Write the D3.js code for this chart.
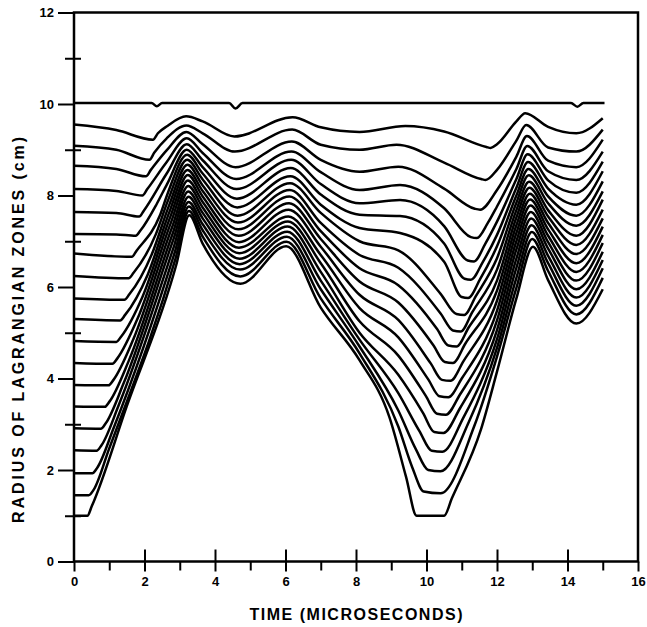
<!DOCTYPE html>
<html>
<head>
<meta charset="utf-8">
<script src="https://cdn.jsdelivr.net/npm/d3@7"></script>
<style>
  body { margin: 0; background: #fff; }
  text { font-family: "Liberation Sans", Arial, sans-serif; fill: #000; }
</style>
</head>
<body>
<svg id="chart" width="647" height="627"></svg>
<script>
// Lagrangian zone radii (cm) vs time (microseconds).
// Zones are listed from the innermost (boundary at 1 cm) outward.
const startR   = [1.00,1.45,1.93,2.43,2.91,3.39,3.86,4.34,4.82,5.30,5.75,6.24,6.73,7.16,7.64,8.14,8.65,9.09,9.55];
const driftR   = [null,null,null,null,null,null,null,null,null,null,null,null,null,7.15,7.62,8.10,8.58,9.00,9.43]; // t = 1.2
const kneeT    = [0.38,0.42,0.52,0.64,0.76,0.87,0.98,1.09,1.20,1.31,1.43,1.55,1.64,1.75,1.85,1.94,2.04,2.14,2.24];
const kneeR    = [1.00,1.45,1.93,2.42,2.90,3.38,3.85,4.32,4.80,5.27,5.72,6.19,6.66,7.12,7.54,8.00,8.42,8.78,9.22];
const bendT    = [0.50,0.56,0.66,0.78,0.90,1.01,1.12,1.23,1.34,1.45,1.57,1.69,1.78,1.89,1.99,2.08,2.18,2.28,2.38];
const bendR    = [1.20,1.57,2.05,2.54,3.02,3.50,3.97,4.44,4.92,5.39,5.84,6.31,6.80,7.24,7.68,8.14,8.56,8.94,9.36];
const joinT    = [1.50,0.99,1.13,1.27,1.41,1.55,1.68,1.81,1.95,2.09,2.21,2.32,2.43,2.35,null,null,null,null,null];
const joinR    = [3.40,2.45,2.93,3.42,3.90,4.38,4.85,5.32,5.80,6.27,6.72,7.15,7.55,7.82,null,null,null,null,null];
const riseT    = [2.90,2.88,2.86,2.84,2.82,2.80,2.78,2.76,2.74,2.72,2.70,2.68,2.66,2.64,2.63,2.62,2.62,2.63,2.65];
const riseR    = [6.48,6.62,6.76,6.90,7.04,7.17,7.30,7.43,7.55,7.67,7.79,7.92,8.05,8.25,8.48,8.72,8.98,9.25,9.52];
const peak1T   = [3.27,3.26,3.26,3.25,3.25,3.24,3.24,3.23,3.23,3.22,3.22,3.21,3.21,3.20,3.20,3.20,3.19,3.19,3.18];
const peak1R   = [7.57,7.66,7.76,7.86,7.97,8.09,8.21,8.33,8.45,8.56,8.67,8.78,8.89,9.00,9.12,9.25,9.39,9.53,9.73];
const post1R   = [6.95,7.10,7.24,7.37,7.50,7.62,7.74,7.86,7.98,8.10,8.22,8.35,8.48,8.62,8.77,8.93,9.12,9.36,9.62]; // t = 3.65
const trough1T = [4.72,4.72,4.71,4.70,4.70,4.69,4.68,4.68,4.67,4.66,4.65,4.64,4.63,4.62,4.61,4.60,4.58,4.56,4.55];
const trough1R = [6.07,6.23,6.38,6.50,6.62,6.74,6.86,6.98,7.12,7.26,7.41,7.56,7.74,7.93,8.14,8.36,8.62,8.96,9.29];
const peak2T   = [6.02,6.03,6.04,6.05,6.06,6.07,6.08,6.09,6.10,6.11,6.12,6.13,6.14,6.15,6.16,6.17,6.18,6.19,6.20];
const peak2R   = [6.89,6.99,7.10,7.21,7.32,7.43,7.54,7.69,7.83,7.98,8.12,8.27,8.42,8.60,8.78,8.96,9.18,9.44,9.71];
const r7       = [5.55,5.75,5.95,6.14,6.33,6.52,6.70,6.88,7.05,7.22,7.40,7.62,7.80,8.02,8.25,8.51,8.78,9.11,9.49]; // t = 7.0
const r8       = [4.40,4.55,4.70,4.85,5.00,5.25,5.54,5.83,6.12,6.41,6.70,7.00,7.29,7.58,7.83,8.12,8.52,9.00,9.39]; // t = 8.1
const midT     = [8.95,9.20,9.20,9.20,9.20,9.20,9.20,9.20,9.20,9.20,9.20,9.20,9.25,9.25,9.25,9.25,9.20,9.15,9.40];
const midR     = [3.15,2.95,3.30,3.68,4.08,4.50,4.90,5.28,5.66,6.04,6.42,6.80,7.18,7.55,7.90,8.23,8.63,9.11,9.52];
const descT    = [9.42,9.60,9.70,9.80,9.90,9.98,10.05,10.12,10.20,10.30,10.40,10.40,10.50,10.50,10.50,10.50,10.50,10.50,10.50];
const descR    = [1.85,2.05,2.45,2.85,3.25,3.62,3.98,4.33,4.72,5.08,5.42,5.85,6.55,6.95,7.33,7.72,8.15,8.72,9.40];
const botAT    = [9.72,9.92,10.05,10.15,10.22,10.30,10.37,10.44,10.52,10.62,10.75,10.85,11.00,11.08,11.17,11.26,11.37,11.55,11.70];
const botAR    = [1.00,1.53,2.00,2.42,2.83,3.23,3.61,3.97,4.36,4.72,5.05,5.41,5.78,6.18,6.58,7.09,7.71,8.36,9.06];
const botBT    = [10.50,10.40,10.40,10.45,10.48,10.55,10.62,10.68,10.75,10.85,10.97,11.07,11.18,11.26,11.35,11.43,11.52,11.68,11.82];
const botBR    = [1.00,1.49,1.97,2.40,2.81,3.21,3.59,3.95,4.34,4.70,5.03,5.39,5.76,6.16,6.56,7.07,7.69,8.34,9.04];
const floorExit = [10.72, 1.38]; // boundary zone leaving its 1 cm floor
const climbT   = [11.55,11.35,11.20,11.05,10.95,10.95,11.00,11.05,11.10,11.20,11.30,11.40,11.52,11.60,11.67,11.74,null,null,null];
const climbR   = [2.90,2.95,3.05,3.15,3.35,3.65,4.00,4.38,4.76,5.12,5.45,5.80,6.17,6.55,6.95,7.40,null,null,null];
const r12      = [4.15,4.48,4.67,4.86,5.06,5.27,5.48,5.70,5.92,6.14,6.38,6.63,6.89,7.14,7.43,7.76,8.12,8.56,9.12]; // t = 12.0
const pre3R    = [5.75,5.98,6.20,6.42,6.62,6.82,7.00,7.18,7.35,7.52,7.68,7.84,8.00,8.17,8.36,8.58,8.85,9.20,9.62]; // t = 12.55
const peak3T   = [13.02,13.00,12.99,12.98,12.97,12.96,12.95,12.94,12.93,12.92,12.91,12.90,12.89,12.88,12.87,12.86,12.85,12.83,12.80];
const peak3R   = [6.88,7.05,7.20,7.35,7.50,7.64,7.78,7.91,8.04,8.17,8.30,8.44,8.58,8.73,8.90,9.08,9.30,9.54,9.80];
const post3R   = [6.15,6.35,6.52,6.68,6.84,6.98,7.12,7.26,7.40,7.54,7.68,7.83,7.98,8.15,8.33,8.53,8.76,9.05,9.50]; // t = 13.45
const trough3R = [5.20,5.40,5.59,5.77,5.95,6.14,6.33,6.52,6.72,6.92,7.12,7.34,7.56,7.80,8.06,8.34,8.62,8.96,9.36]; // t = 14.25
const endR     = [5.95,6.20,6.41,6.59,6.77,6.96,7.14,7.32,7.50,7.69,7.91,8.09,8.31,8.53,8.74,8.96,9.22,9.44,9.69]; // t = 15.0

// outer surface (10 cm)
const outerT = [0, 2.20, 2.35, 2.50, 4.40, 4.58, 4.78, 14.10, 14.28, 14.45, 15.05];
const outerR = [10.02, 10.02, 9.95, 10.02, 10.02, 9.90, 10.02, 10.02, 9.94, 10.02, 10.02];

const yMajor = [0, 2, 4, 6, 8, 10, 12];
const yMinor = [1, 3, 5, 7, 9, 11];
const xMajor = [0, 2, 4, 6, 8, 10, 12, 14, 16];
const xMinor = [1, 3, 5, 7, 9, 11, 13, 15];

const xTitle = "TIME (MICROSECONDS)";
const yTitle = "RADIUS OF LAGRANGIAN ZONES (cm)";

const svg = d3.select("#chart");
const x = d3.scaleLinear().domain([0, 16]).range([74, 638]);
const y = d3.scaleLinear().domain([0, 12]).range([561.5, 12.5]);

function zonePoints(i) {
  const p = [[0, startR[i]]];
  if (driftR[i] != null) p.push([1.2, driftR[i]]);
  p.push([kneeT[i], kneeR[i]], [bendT[i], bendR[i]]);
  if (joinT[i] != null) p.push([joinT[i], joinR[i]]);
  p.push([riseT[i], riseR[i]], [peak1T[i], peak1R[i]], [3.65, post1R[i]],
         [trough1T[i], trough1R[i]], [peak2T[i], peak2R[i]],
         [7.0, r7[i]], [8.1, r8[i]], [midT[i], midR[i]], [descT[i], descR[i]],
         [botAT[i], botAR[i]], [botBT[i], botBR[i]]);
  if (i === 0) p.push(floorExit);
  if (climbT[i] != null) p.push([climbT[i], climbR[i]]);
  p.push([12.0, r12[i]], [12.55, pre3R[i]], [peak3T[i], peak3R[i]],
         [13.45, post3R[i]], [14.25, trough3R[i]], [15.0, endR[i]]);
  return p;
}

const zones = startR.map((_, i) => zonePoints(i));
zones.push(outerT.map((t, k) => [t, outerR[k]]));

const line = d3.line()
  .x(d => x(d[0]))
  .y(d => y(d[1]))
  .curve(d3.curveMonotoneX);

svg.append("g")
  .selectAll("path")
  .data(zones)
  .join("path")
  .attr("d", line)
  .attr("fill", "none")
  .attr("stroke", "#000")
  .attr("stroke-width", 2.5)
  .attr("stroke-linejoin", "round");

// axes
function styleAxis(g) {
  g.select(".domain").remove();
  g.selectAll(".tick line").attr("stroke", "#000").attr("stroke-width", 2);
  g.selectAll(".tick text").attr("font-size", 13).attr("font-weight", "bold")
    .attr("font-family", "'Liberation Sans', Arial, sans-serif");
}

svg.append("g").attr("transform", `translate(${x(0)},0)`)
  .call(d3.axisLeft(y).tickValues(yMajor).tickSize(16).tickPadding(4).tickFormat(d3.format("d")))
  .call(styleAxis);
svg.append("g").attr("transform", `translate(${x(0)},0)`)
  .call(d3.axisLeft(y).tickValues(yMinor).tickSize(9).tickFormat(""))
  .call(styleAxis);
svg.append("g").attr("transform", `translate(${x(0)},0)`)
  .call(d3.axisRight(y).tickValues(yMinor).tickSize(7).tickFormat(""))
  .call(styleAxis);

svg.append("g").attr("transform", `translate(0,${y(0)})`)
  .call(d3.axisBottom(x).tickValues(xMajor).tickSize(10).tickPadding(5).tickFormat(d3.format("d")))
  .call(styleAxis);
svg.append("g").attr("transform", `translate(0,${y(0)})`)
  .call(d3.axisTop(x).tickValues(xMajor.filter(v => v > 0 && v < 16)).tickSize(12).tickFormat(""))
  .call(styleAxis);
svg.append("g").attr("transform", `translate(0,${y(0)})`)
  .call(d3.axisBottom(x).tickValues(xMinor).tickSize(9).tickFormat(""))
  .call(styleAxis);

// frame
svg.append("rect")
  .attr("x", x(0)).attr("y", y(12))
  .attr("width", x(16) - x(0)).attr("height", y(0) - y(12))
  .attr("fill", "none").attr("stroke", "#000").attr("stroke-width", 2.5);

// titles
svg.append("text")
  .attr("x", 356).attr("y", 620)
  .attr("text-anchor", "middle")
  .attr("font-size", 16).attr("font-weight", "bold")
  .attr("textLength", 213).attr("lengthAdjust", "spacing")
  .text(xTitle);

svg.append("text")
  .attr("transform", "translate(24,330) rotate(-90)")
  .attr("text-anchor", "middle")
  .attr("font-size", 16).attr("font-weight", "bold")
  .attr("textLength", 386).attr("lengthAdjust", "spacing")
  .text(yTitle);
</script>
</body>
</html>
